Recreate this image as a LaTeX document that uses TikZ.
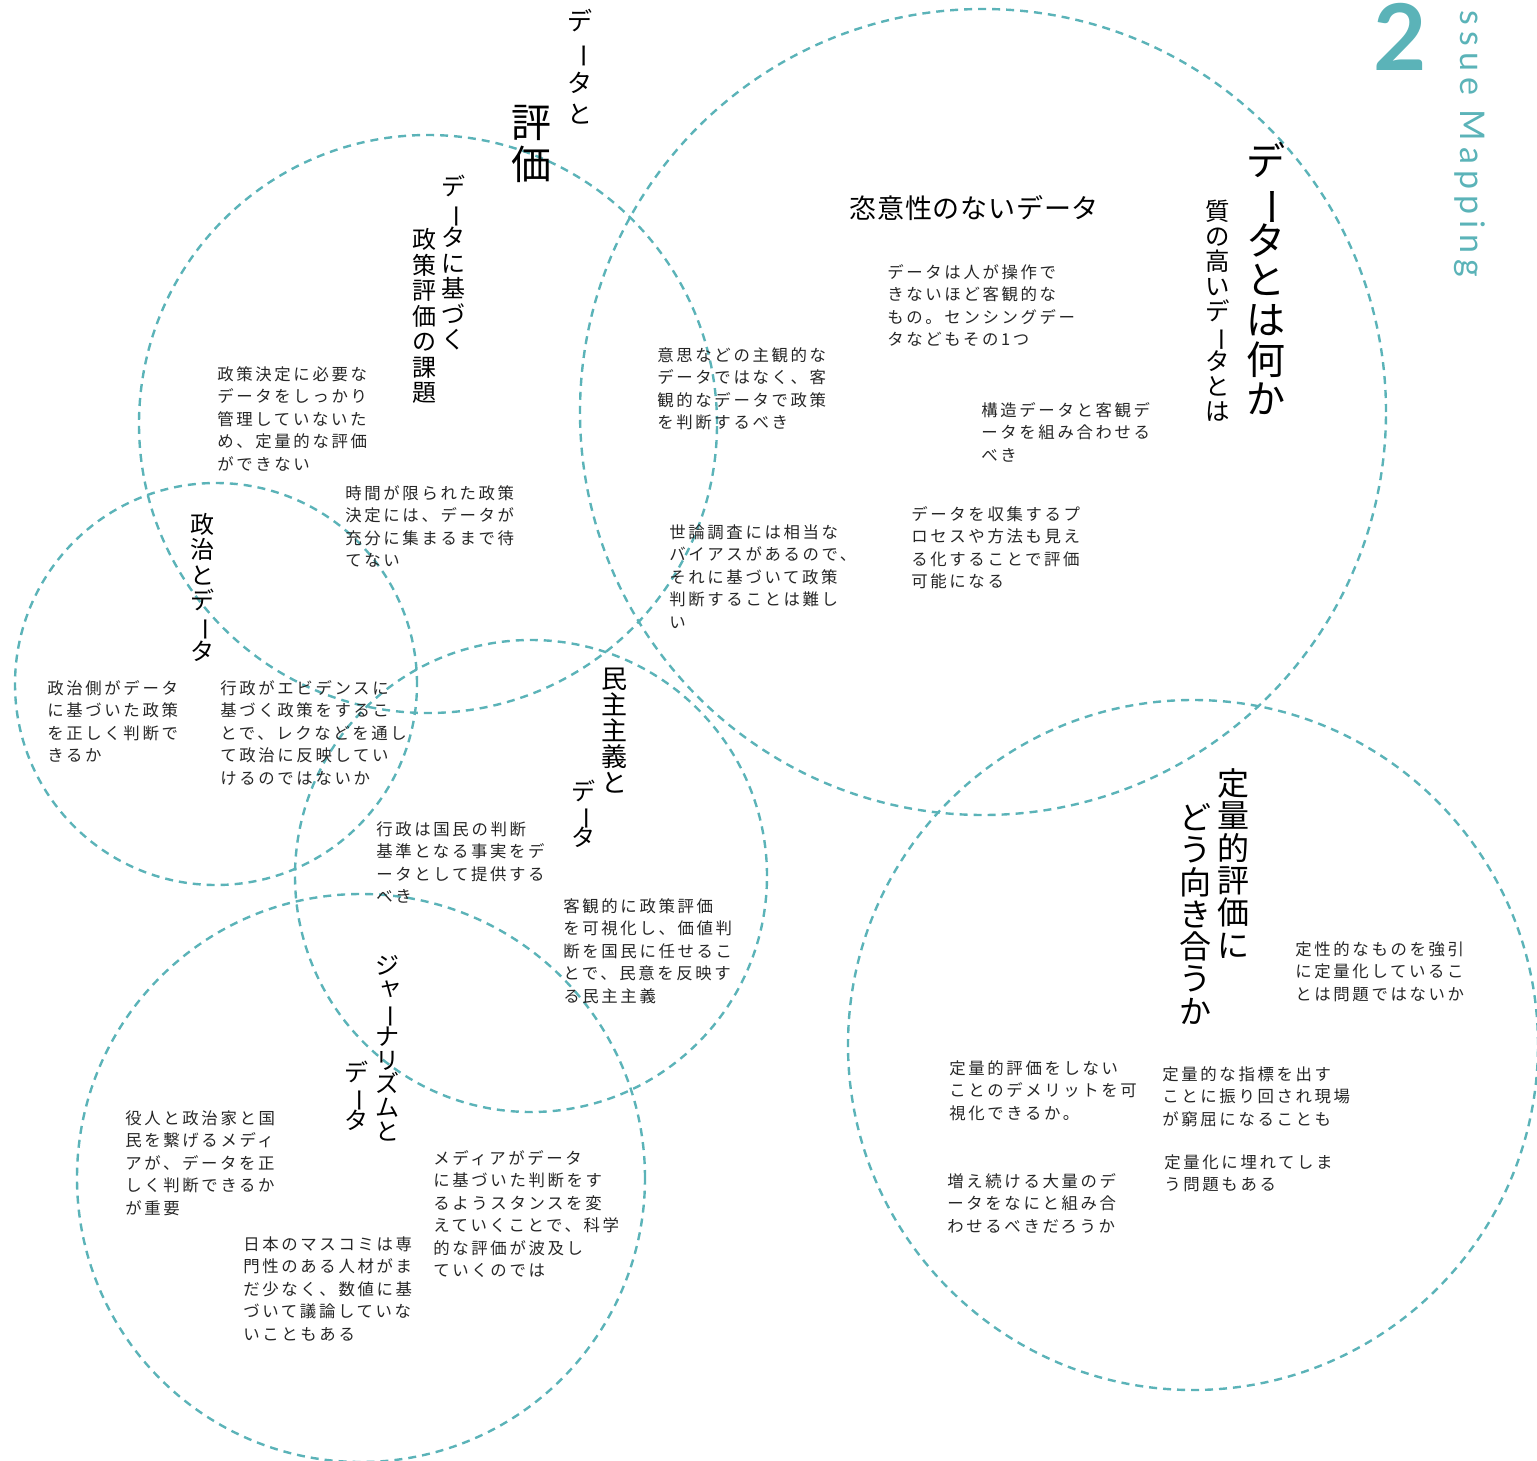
\documentclass[tikz,border=0pt]{standalone}
\usepackage{fontspec}
\usepackage{graphicx}
\newfontfamily\jp{Noto Sans CJK JP}
\newfontfamily\jpb{Noto Sans CJK JP}[LetterSpace=16]
\newfontfamily\jph{Noto Sans CJK JP}[LetterSpace=3]
\newfontfamily\lat{Lato}
\newfontfamily\latsp{Lato}[LetterSpace=18]
\definecolor{tealc}{HTML}{5BB3B8}
\newcommand\vb{\rotatebox[origin=c]{-90}{ー}}
\newcommand\sya{\hspace*{0.25em}\raisebox{0.12em}{ャ}}
\makeatletter
\newcommand\vtxt[1]{\vbox{\lineskiplimit=-100pt\relax\lineskip=0pt\relax
  \@tfor\vt@c:=#1\do{\hbox to 1em{\hss\vt@c\hss}}}}
\makeatother
\tikzset{
  circ/.style={draw=tealc, line width=1.2pt, dash pattern=on 4pt off 3pt},
  body/.style={anchor=north west, inner sep=0pt, align=left, text=black!85,
    font=\jpb\fontsize{8.2pt}{11.25pt}\selectfont},
  vtitle/.style 2 args={anchor=north, inner sep=0pt,
    font={\jp\fontsize{#1}{#2}\selectfont}},
}
\begin{document}
\begin{tikzpicture}[x=0.5pt,y=-0.5pt]
\useasboundingbox (0,0) rectangle (1537,1461);
% circles
\draw[circ] (983,412) circle[radius=201.5pt];
\draw[circ] (428,424) circle[radius=144.5pt];
\draw[circ] (216,684) circle[radius=100.5pt];
\draw[circ] (531,876) circle[radius=118pt];
\draw[circ] (361,1178) circle[radius=142pt];
\draw[circ] (1193,1045) circle[radius=172.5pt];
% header
\node[anchor=base west, inner sep=0pt, text=tealc, font=\lat\bfseries\fontsize{46pt}{46pt}\selectfont] (num) at (1373,71) {2};
\node[rotate=-90, anchor=base west, inner sep=0pt, text=tealc, font=\latsp\fontsize{17pt}{17pt}\selectfont] (issue) at (1460,10) {ssue Mapping};
% titles
\node[vtitle={12.5pt}{15.5pt}] (t1) at (580,9) {\vtxt{デ\vb タと}};
\node[vtitle={20pt}{21pt}] (t2) at (531,105) {\vtxt{評価}};
\node[vtitle={12pt}{12.75pt}] (t3) at (453,175) {\vtxt{デ\vb タに基づく}};
\node[vtitle={12pt}{12.75pt}] (t4) at (424,228) {\vtxt{政策評価の課題}};
\node[vtitle={19.5pt}{19.85pt}] (t5) at (1266,142) {\vtxt{デ\vb タとは何か}};
\node[vtitle={12.2pt}{12.45pt}] (t6) at (1218,200) {\vtxt{質の高いデ\vb タとは}};
\node[anchor=west, inner sep=0pt, font=\jph\fontsize{13.5pt}{14pt}\selectfont] (t0) at (849,208) {恣意性のないデータ};
\node[vtitle={12pt}{12.7pt}] (t7) at (202,513) {\vtxt{政治とデ\vb タ}};
\node[vtitle={13pt}{12.9pt}] (t8) at (614,668) {\vtxt{民主主義と}};
\node[vtitle={12pt}{11.5pt}] (t9) at (583,780) {\vtxt{デ\vb タ}};
\node[vtitle={12pt}{11.85pt}] (t10) at (387,955) {\vtxt{ジ\sya\vb ナリズムと}};
\node[vtitle={12pt}{12pt}] (t11) at (356,1061) {\vtxt{デ\vb タ}};
\node[vtitle={16pt}{16.2pt}] (t12) at (1233,768) {\vtxt{定量的評価に}};
\node[vtitle={16pt}{16.15pt}] (t13) at (1195,803) {\vtxt{どう向き合うか}};
% body texts
\node[body] (a) at (887,264) {データは人が操作で\\きないほど客観的な\\もの。センシングデー\\タなどもその1つ};
\node[body] (b) at (981,402) {構造データと客観デ\\ータを組み合わせる\\べき};
\node[body] (c) at (911,506) {データを収集するプ\\ロセスや方法も見え\\る化することで評価\\可能になる};
\node[body] (d) at (657,347) {意思などの主観的な\\データではなく、客\\観的なデータで政策\\を判断するべき};
\node[body] (e) at (669,524) {世論調査には相当な\\バイアスがあるので、\\それに基づいて政策\\判断することは難し\\い};
\node[body] (f) at (217,366) {政策決定に必要な\\データをしっかり\\管理していないた\\め、定量的な評価\\ができない};
\node[body] (g) at (345,485) {時間が限られた政策\\決定には、データが\\充分に集まるまで待\\てない};
\node[body] (h) at (47,680) {政治側がデータ\\に基づいた政策\\を正しく判断で\\きるか};
\node[body] (i) at (220,680) {行政がエビデンスに\\基づく政策をするこ\\とで、レクなどを通し\\て政治に反映してい\\けるのではないか};
\node[body] (j) at (376,821) {行政は国民の判断\\基準となる事実をデ\\ータとして提供する\\べき};
\node[body] (k) at (563,898) {客観的に政策評価\\を可視化し、価値判\\断を国民に任せるこ\\とで、民意を反映す\\る民主主義};
\node[body] (l) at (125,1110) {役人と政治家と国\\民を繋げるメディ\\アが、データを正\\しく判断できるか\\が重要};
\node[body] (m) at (243,1236) {日本のマスコミは専\\門性のある人材がま\\だ少なく、数値に基\\づいて議論していな\\いこともある};
\node[body] (n) at (433,1150) {メディアがデータ\\に基づいた判断をす\\るようスタンスを変\\えていくことで、科学\\的な評価が波及し\\ていくのでは};
\node[body] (o) at (1295,941) {定性的なものを強引\\に定量化しているこ\\とは問題ではないか};
\node[body] (p) at (949,1060) {定量的評価をしない\\ことのデメリットを可\\視化できるか。};
\node[body] (q) at (1162,1066) {定量的な指標を出す\\ことに振り回され現場\\が窮屈になることも};
\node[body] (r) at (1164,1154) {定量化に埋れてしま\\う問題もある};
\node[body] (s) at (947,1173) {増え続ける大量のデ\\ータをなにと組み合\\わせるべきだろうか};
\end{tikzpicture}
\end{document}
